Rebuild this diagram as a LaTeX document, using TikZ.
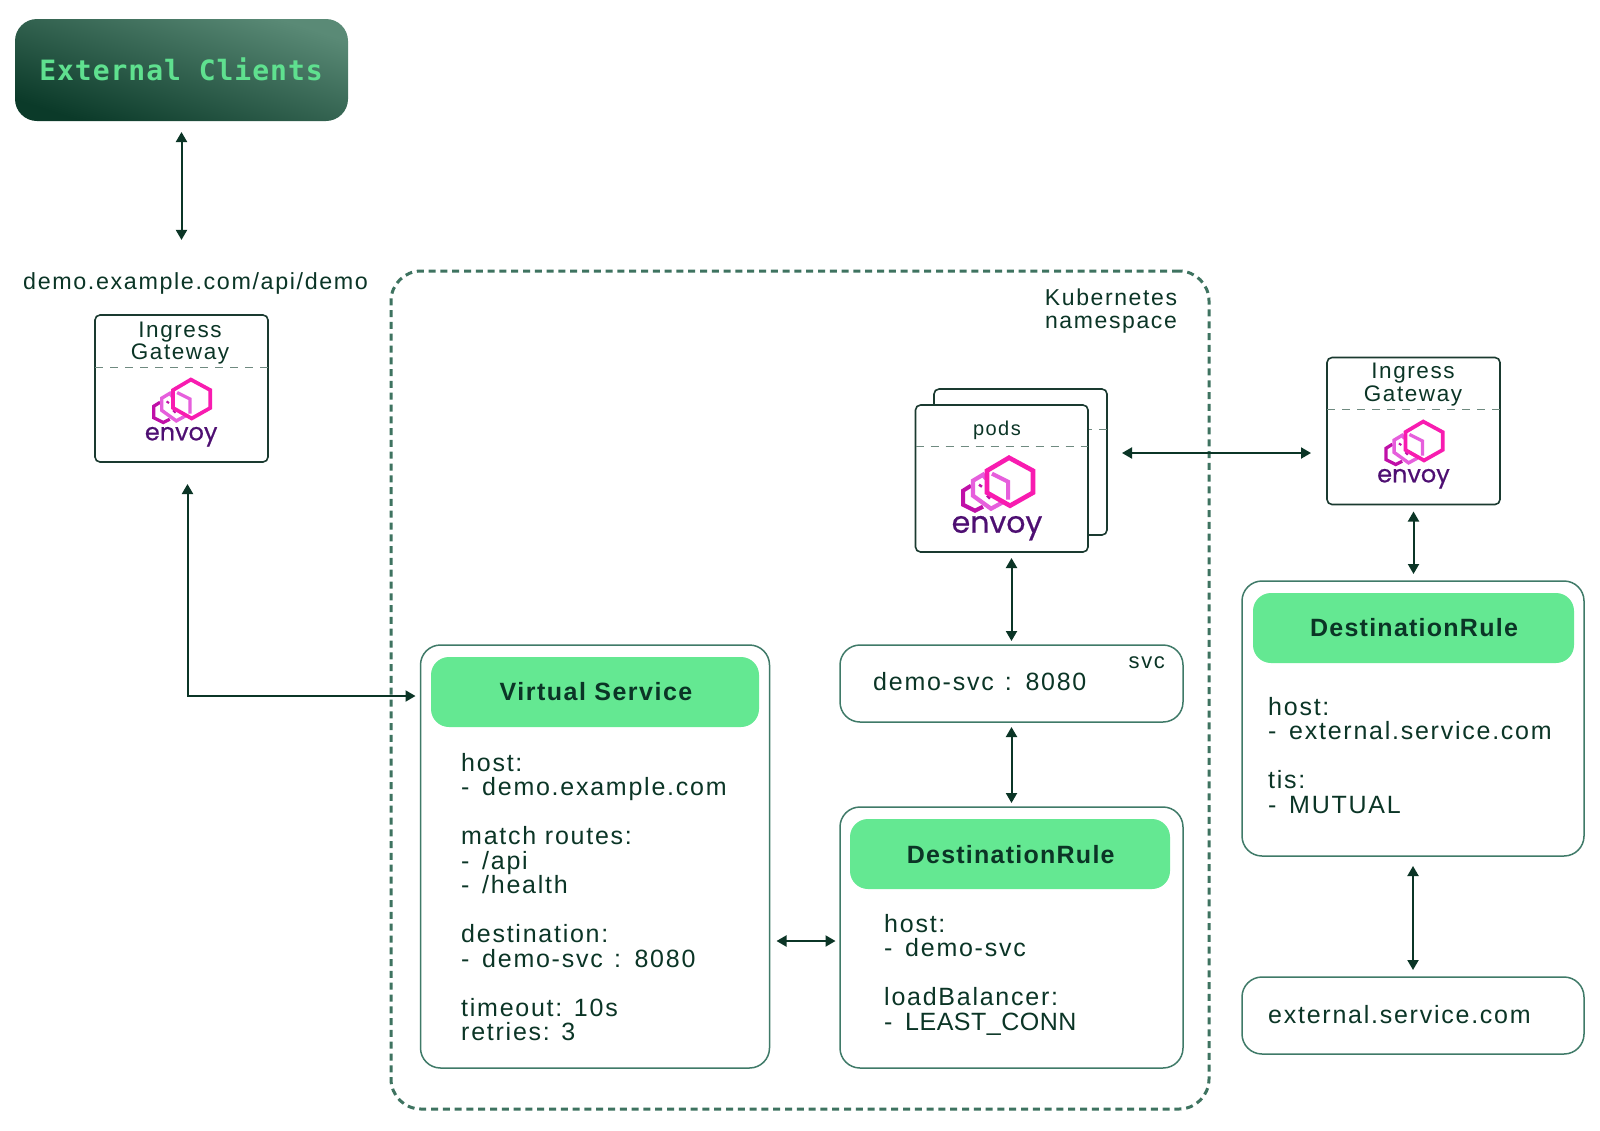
\documentclass[tikz,border=0pt]{standalone}
\usepackage{fontspec}
\setmainfont{Liberation Sans}
\newfontfamily\bodyf[LetterSpace=7]{Liberation Sans}
\newfontfamily\headf[LetterSpace=6]{Liberation Sans}
\newfontfamily\monof[LetterSpace=3.5]{DejaVu Sans Mono}
\newfontfamily\logof[FakeBold=0.6]{Poppins}
\usetikzlibrary{arrows.meta,calc}
\definecolor{ink}{HTML}{0B3526}
\definecolor{edge}{HTML}{3F7A68}
\definecolor{nsline}{HTML}{3E7360}
\definecolor{boxdark}{HTML}{1A3A30}
\definecolor{mint}{HTML}{64E892}
\definecolor{mintt}{HTML}{5FE08F}
\definecolor{lgA}{HTML}{F81CB0}
\definecolor{lgB}{HTML}{E65FDC}
\definecolor{lgC}{HTML}{C010A8}
\definecolor{lgT}{HTML}{4E0F72}
\definecolor{gray1}{HTML}{6F8A80}
\definecolor{gradA}{HTML}{0B3A29}
\definecolor{gradB}{HTML}{5A8A76}
\newcommand{\fz}[2]{\fontsize{#1}{#2}\selectfont}
\newcommand{\fs}{\rule{0pt}{20pt}}
\newcommand{\dd}{-\hspace{4pt} }
\newcommand{\demosvc}{demo-svc\hspace{2.5pt} :\hspace{2pt} 8080}
\tikzset{
  card/.style={draw=edge,line width=1.5pt,rounded corners=20pt,fill=white,inner sep=0pt,outer sep=0pt,anchor=north west},
  head/.style={fill=mint,rounded corners=18pt,inner sep=0pt,outer sep=0pt,anchor=north west},
  gate/.style={draw=boxdark,line width=1.6pt,rounded corners=5pt,fill=white,inner sep=0pt,outer sep=0pt,anchor=north west},
  headtxt/.style={inner sep=0pt,anchor=base,text=ink,font=\headf\bfseries\fz{25}{25}},
  bodytxt/.style={inner sep=0pt,anchor=north west,align=left,text=ink,font=\bodyf\fz{25}{24.5}},
  smalltxt/.style={inner sep=0pt,anchor=base,align=center,text=ink,font=\bodyf\fz{22.5}{22}},
  bi/.style={draw=ink,line width=2pt,{Triangle[length=10pt,width=11pt]}-{Triangle[length=10pt,width=11pt]}},
  sep/.style={draw=gray1,line width=1pt,dash pattern=on 8pt off 7pt},
  lgline/.style={line join=miter,fill=none},
}
\newcommand{\envoylogo}[5]{% name, hex centre x, y, scale, font size
  \begin{scope}[shift={(#2,#3)},scale=#4]
    \draw[lgline,draw=lgC,line width=#4*4pt] (-39,4) -- (-47,9) -- (-47,23) -- (-35,29) -- (-27,25);
    \draw[lgline,draw=lgB,line width=#4*4.2pt] (-24,-3) -- (-27,-7) -- (-37,-1) -- (-37,14) -- (-19,27) -- (-8,21);
    \draw[draw=lgC,line width=#4*2.5pt] (-31,3) -- (-28,5) (-23,14) -- (-20,17);
    \draw[lgline,draw=lgB,line width=#4*4pt] (-18,-8) -- (-2,0) -- (-2,18);
    \draw[lgline,draw=lgA,line width=#4*4.6pt] (-1,-24) -- (23,-11) -- (23,11) -- (0,24) -- (-23,11) -- (-23,-11) -- cycle;
    \node[inner sep=0pt,anchor=base,text=lgT,font=\logof\fontsize{#5}{#5}\selectfont] (#1) at (-13,51) {envoy};
  \end{scope}
}
\begin{document}
\begin{tikzpicture}[x=1pt,y=-1pt]
\useasboundingbox (0,0) rectangle (1600,1130);
\fill[white] (0,0) rectangle (1600,1130);

% External clients
\node[inner sep=0pt,outer sep=0pt,anchor=north west,minimum width=333pt,minimum height=102pt,rounded corners=22pt,
  bottom color=gradA,top color=gradB,shading angle=-18] (ext) at (15,19) {};
\node[inner sep=0pt,anchor=base,text=mintt,font=\monof\bfseries\fz{28}{28}] (extl) at (181,80) {External Clients};

% URL
\node[inner sep=0pt,anchor=base west,text=ink,font=\bodyf\fz{23.3}{23}] (url) at (23,289) {demo.example.com/api/demo};

% Left gateway
\node[gate,minimum width=173pt,minimum height=147pt] (gwL) at (95,315) {};
\node[smalltxt] (gwLa) at (180,337) {Ingress};
\node[smalltxt] (gwLb) at (180,359) {Gateway};
\draw[sep] (gwL.west |- 0,367) -- (gwL.east |- 0,367);
\envoylogo{envL}{191.7}{399}{0.81}{24}

% Namespace
\node[draw=nsline,line width=3pt,dash pattern=on 7pt off 4.8pt,rounded corners=30pt,inner sep=0pt,outer sep=0pt,anchor=north west,minimum width=818pt,minimum height=838pt] (ns) at (391,271) {};
\node[inner sep=0pt,anchor=base,align=center,text=ink,font=\bodyf\fz{23}{22}] (nsa) at (1111,305) {Kubernetes};
\node[inner sep=0pt,anchor=base,align=center,text=ink,font=\bodyf\fz{23}{22}] (nsb) at (1111,328) {namespace};

% Pods
\node[gate,minimum width=173pt,minimum height=146pt] (podb) at (934,389) {};
\draw[sep] (podb.west |- 0,429) -- (podb.east |- 0,429);
\node[gate,minimum width=172.5pt,minimum height=147pt] (podf) at (915.5,405) {};
\node[smalltxt,font=\bodyf\fz{20}{20}] (podl) at (997,435) {pods};
\draw[sep] (podf.west |- 0,446) -- (podf.east |- 0,446);
\envoylogo{envP}{1010}{481.7}{1}{30}

% Virtual service
\node[card,minimum width=349pt,minimum height=423pt] (vs) at (420.5,645) {};
\node[head,minimum width=328pt,minimum height=70pt] (vsh) at (431,657) {};
\node[headtxt] (vsl) at (596,700) {Virtual Service};
\node[bodytxt] (vst) at (461,751) {\fs host:\\\dd demo.example.com\\[24.5pt]match routes:\\\dd /api\\\dd /health\\[24.5pt]destination:\\\dd \demosvc\\[24.5pt]timeout: 10s\\retries: 3};

% svc
\node[card,minimum width=343pt,minimum height=77pt] (svc) at (840,645) {};
\node[bodytxt] (svcl) at (873,670) {\fs \demosvc};
\node[smalltxt,anchor=base east,font=\bodyf\fz{22}{22}] (svct) at (1165,668) {svc};

% DR centre
\node[card,minimum width=343pt,minimum height=261pt] (dr) at (840,807) {};
\node[head,minimum width=320pt,minimum height=70pt] (drh) at (850,819) {};
\node[headtxt,font=\headf\addfontfeature{LetterSpace=5}\bfseries\fz{25}{25}] (drl) at (1010.7,863) {DestinationRule};
\node[bodytxt] (drt) at (884,912) {\fs host:\\\dd demo-svc\\[24.5pt]loadBalancer:\\\dd {\addfontfeature{LetterSpace=2}LEAST\_CONN}};

% Right gateway
\node[gate,minimum width=173pt,minimum height=147pt] (gwR) at (1327,357.5) {};
\node[smalltxt] (gwRa) at (1413,378) {Ingress};
\node[smalltxt] (gwRb) at (1413,401) {Gateway};
\draw[sep] (gwR.west |- 0,409) -- (gwR.east |- 0,409);
\envoylogo{envR}{1424}{441}{0.81}{24}

% DR right
\node[card,minimum width=342pt,minimum height=275pt] (drR) at (1242,581) {};
\node[head,minimum width=321pt,minimum height=70pt] (drRh) at (1253,593) {};
\node[headtxt,font=\headf\addfontfeature{LetterSpace=5}\bfseries\fz{25}{25}] (drRl) at (1414,636) {DestinationRule};
\node[bodytxt] (drRt) at (1268,695) {\fs host:\\\dd external.service.com\\[24.5pt]tis:\\\dd MUTUAL};

% External service
\node[card,minimum width=342pt,minimum height=77pt] (exts) at (1242,977) {};
\node[bodytxt] (extsl) at (1268,1003) {\fs external.service.com};

% Connectors
\draw[bi,shorten <=11pt,shorten >=32pt] (ext.south) -- (ext.south |- url.north);
\draw[bi,shorten <=22pt,shorten >=5pt] ([xshift=6pt]gwL.south) |- ([yshift=-4pt]vs.west |- vsh.west);
\draw[bi,shorten <=6pt,shorten >=4pt] (svc.north |- podf.south) -- (svc.north);
\draw[bi,shorten <=5pt,shorten >=4pt] (svc.south) -- (dr.north);
\draw[bi,shorten <=7pt,shorten >=4.5pt] ([yshift=-3.5pt]vs.east |- dr.west) -- ([yshift=-3.5pt]dr.west);
\draw[bi,shorten <=15pt,shorten >=16pt] ([yshift=9pt]podb.east) -- ([yshift=9pt]gwR.west |- podb.east);
\draw[bi,shorten <=7pt,shorten >=7pt] (gwR.south) -- (gwR.south |- drR.north);
\draw[bi,shorten <=10pt,shorten >=7pt] (drR.south) -- (exts.north);
\end{tikzpicture}
\end{document}
